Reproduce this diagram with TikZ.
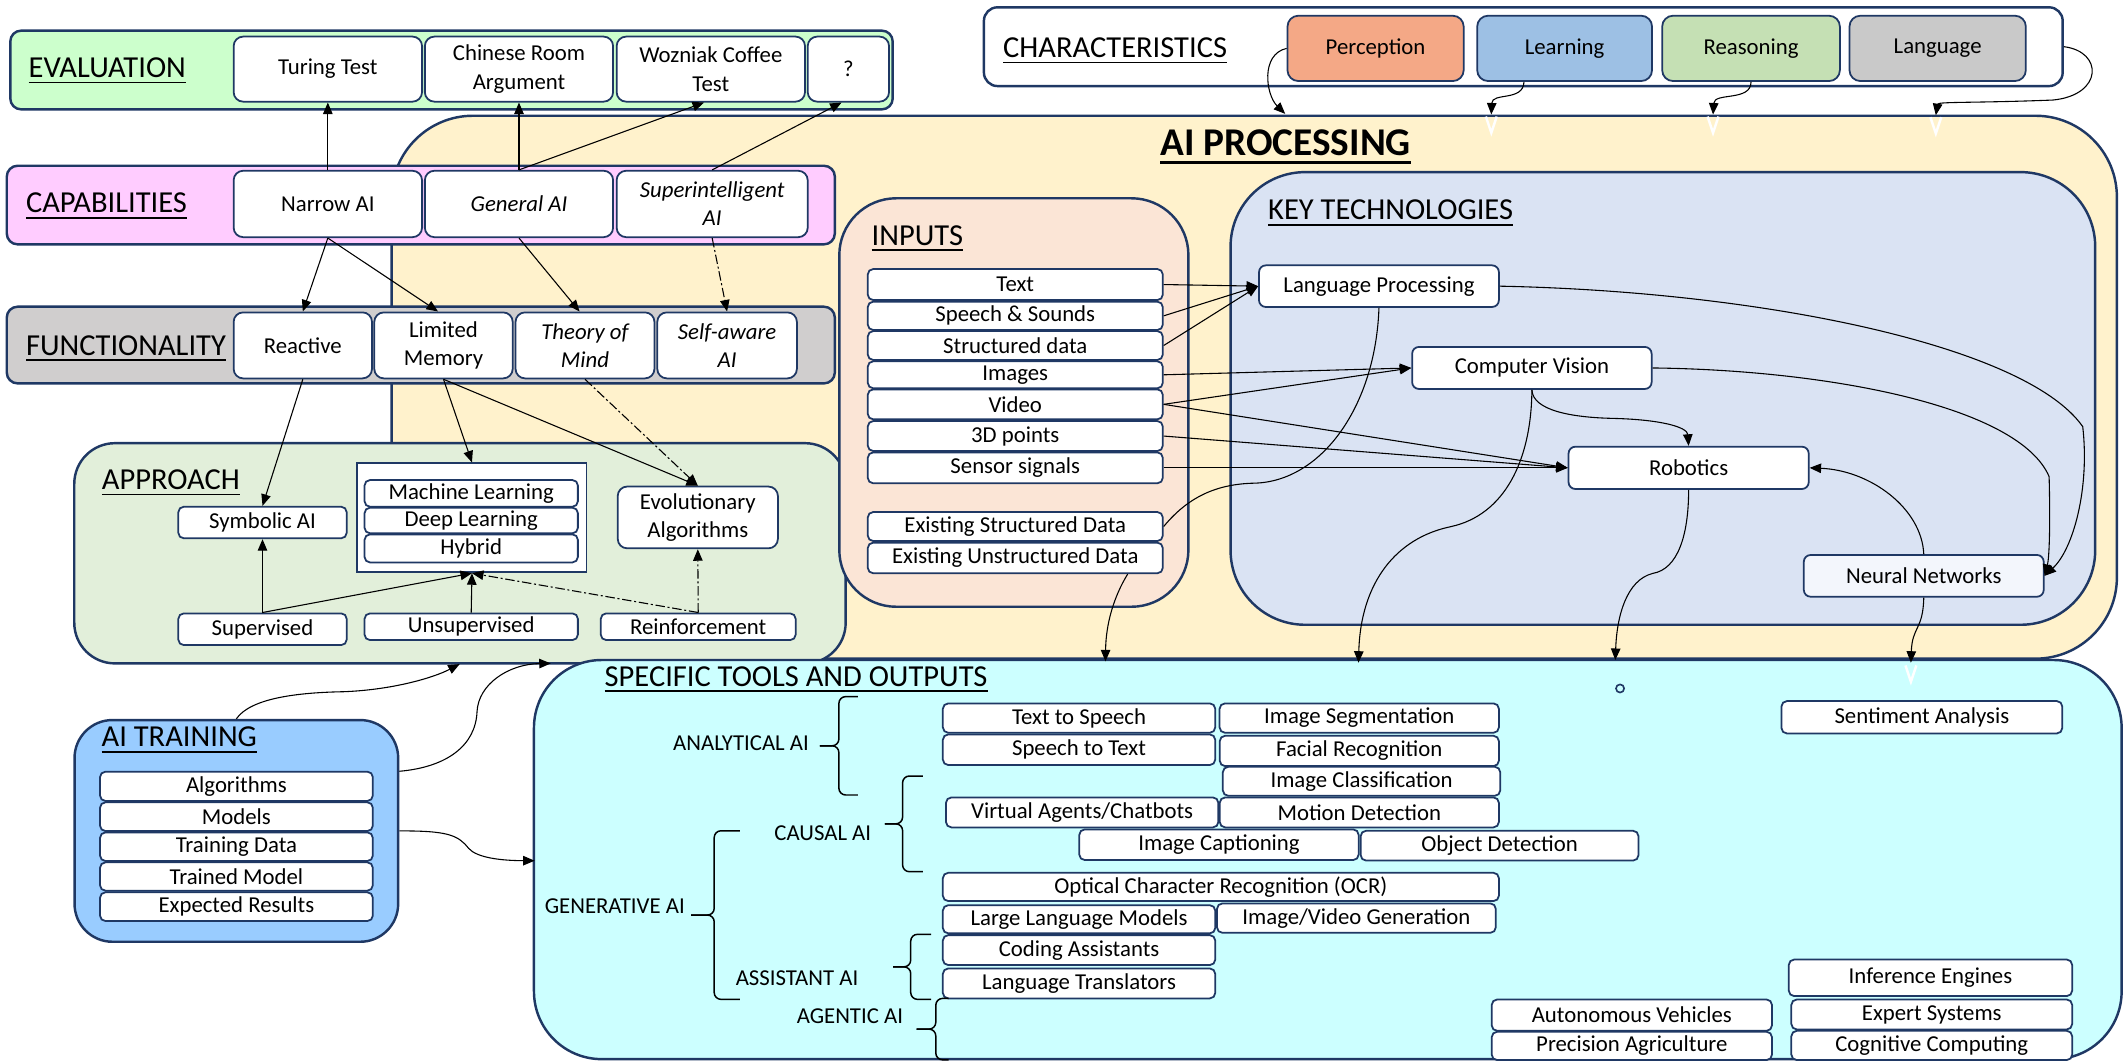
\documentclass[tikz,border=0pt]{standalone}
\usepackage{fontspec}
\setmainfont{Carlito}
\usetikzlibrary{arrows.meta,calc}

\definecolor{navy}{HTML}{1F3864}
\definecolor{evalfill}{HTML}{CCFFCC}
\definecolor{capfill}{HTML}{FFCCFF}
\definecolor{funcfill}{HTML}{D0CECE}
\definecolor{procfill}{HTML}{FFF2CC}
\definecolor{appfill}{HTML}{E2EFDA}
\definecolor{inpfill}{HTML}{FBE5D6}
\definecolor{techfill}{HTML}{DAE3F3}
\definecolor{toolfill}{HTML}{CCFFFF}
\definecolor{trainfill}{HTML}{99CCFF}
\definecolor{percfill}{HTML}{F4A886}
\definecolor{learnfill}{HTML}{9DC0E4}
\definecolor{reasfill}{HTML}{C5E0B4}
\definecolor{langfill}{HTML}{C9C9C9}
\definecolor{nnfill}{HTML}{F3F6FC}

% underlined heading text
\newsavebox\hdbox
\newcommand\hdul[1]{\sbox\hdbox{#1}\usebox\hdbox\llap{\rule[-4.5pt]{\wd\hdbox}{1.3pt}}}
% box given by its corners: style, name, x1, y1, x2, y2, text
\newcommand\boxnode[7]{\node[#1,minimum width={(#5)-(#3)},minimum height={(#6)-(#4)}] (#2) at ({((#3)+(#5))/2},{((#4)+(#6))/2}) {#7};}
% left curly bracket: end x, spine x, tip x, top y, bottom y
\newcommand\catbrace[5]{%
  \draw[brline] (#1,#4) -- (#2,#4) -- (#2,{((#4)+(#5))/2}) -- (#3,{((#4)+(#5))/2});
  \draw[brline] (#1,#5) -- (#2,#5) -- (#2,{((#4)+(#5))/2}) -- (#3,{((#4)+(#5))/2});}

\begin{document}
\begin{tikzpicture}[x=1pt,y=-1pt,
  panel/.style={draw=navy,line width=1.8pt,inner sep=0pt},
  tbox/.style={draw=navy,line width=1.3pt,fill=white,rounded corners=4pt,inner sep=0pt,align=center,font=\fontsize{16.8}{20.8}\selectfont},
  itbox/.style={tbox,font=\fontsize{16.8}{20.8}\selectfont\itshape},
  chbox/.style={tbox,rounded corners=8pt},
  heading/.style={anchor=base west,inner sep=0pt,font=\fontsize{22.5}{26}\selectfont},
  lbl/.style={anchor=east,inner sep=0pt,font=\fontsize{16.8}{20}\selectfont},
  link/.style={line width=0.8pt,-{Triangle[length=8.5pt,width=7pt]}},
  dlink/.style={link,dash pattern=on 7pt off 2pt on 1.5pt off 2pt},
  plain/.style={line width=0.8pt},
  brline/.style={line width=1.1pt,rounded corners=5pt}]

\useasboundingbox (0,0) rectangle (1568,782.9);

% ---------- panels ----------
\boxnode{panel,fill=procfill,rounded corners=60pt}{proc}{289}{85.4}{1562}{486}{}
\boxnode{panel,fill=evalfill,rounded corners=8pt}{eval}{7.6}{22.6}{658.7}{80.7}{}
\boxnode{panel,fill=capfill,rounded corners=8pt}{cap}{5}{122.3}{616}{180.3}{}
\boxnode{panel,fill=funcfill,rounded corners=8pt}{func}{5}{226.3}{616}{282.9}{}
\boxnode{panel,fill=appfill,rounded corners=30pt}{approach}{54.8}{327}{624}{489.5}{}
\boxnode{panel,fill=inpfill,rounded corners=42pt}{inputs}{619.3}{146.3}{876.9}{447.7}{}
\boxnode{panel,fill=techfill,rounded corners=55pt}{tech}{908}{127}{1546}{461}{}
\boxnode{panel,fill=toolfill,rounded corners=50pt}{tools}{394}{487}{1565.5}{781.5}{}
\boxnode{panel,fill=trainfill,rounded corners=28pt}{training}{55}{531.3}{293.8}{694.9}{}
\boxnode{panel,fill=white,rounded corners=10pt}{chars}{726}{5.4}{1522}{63.5}{}

% ---------- headings ----------
\node[heading] (hEval) at (21,57) {\hdul{EVALUATION}};
\node[heading] (hCap) at (19,157) {\hdul{CAPABILITIES}};
\node[heading] (hFunc) at (19,262) {\hdul{FUNCTIONALITY}};
\node[heading] (hApp) at (75,361) {\hdul{APPROACH}};
\node[heading] (hTrain) at (74.8,551) {\hdul{AI TRAINING}};
\node[heading] (hInp) at (643,180.8) {\hdul{INPUTS}};
\node[heading] (hTech) at (935.6,162.3) {\hdul{KEY TECHNOLOGIES}};
\node[heading] (hTools) at (446,506.2) {\hdul{SPECIFIC TOOLS AND OUTPUTS}};
\node[heading] (hChars) at (740,42.3) {\hdul{CHARACTERISTICS}};
\node[heading,font=\fontsize{29}{33}\selectfont\bfseries] (hProc) at (856,114.4)
  {\sbox\hdbox{AI PROCESSING}\usebox\hdbox\llap{\rule[-6.5pt]{\wd\hdbox}{2.2pt}}};

% ---------- evaluation ----------
\boxnode{tbox,rounded corners=7pt}{turing}{172.4}{27}{311.4}{75}{Turing Test}
\boxnode{tbox,rounded corners=7pt}{chinese}{313.5}{27}{452.4}{75}{Chinese Room\\Argument}
\boxnode{tbox,rounded corners=7pt}{wozniak}{455}{27}{594}{75}{Wozniak Coffee\\Test}
\boxnode{tbox,rounded corners=7pt}{qmark}{596}{27}{656}{75}{?}

% ---------- capabilities ----------
\boxnode{tbox,rounded corners=7pt}{narrow}{172.4}{126}{311.4}{175}{Narrow AI}
\boxnode{itbox,rounded corners=7pt}{general}{313.5}{126}{452.4}{175}{General AI}
\boxnode{itbox,rounded corners=7pt}{superint}{455}{126}{596}{175}{Superintelligent\\AI}

% ---------- functionality ----------
\boxnode{tbox,rounded corners=7pt}{reactive}{172.4}{230.5}{274.5}{279.2}{Reactive}
\boxnode{tbox,rounded corners=7pt}{limited}{276.2}{230.5}{378.3}{279.2}{Limited\\Memory}
\boxnode{itbox,rounded corners=7pt}{theory}{380.4}{230.5}{482.9}{279.2}{Theory of\\Mind}
\boxnode{itbox,rounded corners=7pt}{selfaware}{485}{230.5}{588}{279.2}{Self-aware\\AI}

% ---------- approach ----------
\boxnode{tbox}{symbolic}{131.6}{373.9}{255.8}{397.2}{Symbolic AI}
\boxnode{tbox,rounded corners=0pt}{mlgroup}{263.7}{341.9}{432.8}{422.3}{}
\boxnode{tbox}{ml}{269}{354.2}{426.4}{373.9}{Machine Learning}
\boxnode{tbox}{dl}{269}{374.6}{426.4}{393.5}{Deep Learning}
\boxnode{tbox}{hybrid}{269}{394.3}{426.4}{415}{Hybrid}
\boxnode{tbox,rounded corners=7pt}{evo}{455.8}{359}{574}{404.6}{Evolutionary\\Algorithms}
\boxnode{tbox}{supervised}{131.6}{452.6}{255.8}{476}{Supervised}
\boxnode{tbox}{unsupervised}{269}{452.6}{426.4}{472.3}{Unsupervised}
\boxnode{tbox}{reinforcement}{443.3}{452.6}{587.1}{472.3}{Reinforcement}

% ---------- characteristics ----------
\boxnode{chbox,fill=percfill}{perception}{950}{11.6}{1080}{59.8}{Perception}
\boxnode{chbox,fill=learnfill}{learning}{1090}{11.6}{1219}{59.8}{Learning}
\boxnode{chbox,fill=reasfill}{reasoning}{1226.5}{11.6}{1357.6}{59.8}{Reasoning}
\boxnode{chbox,fill=langfill}{language}{1364.7}{11.6}{1494.8}{59.8}{Language}

% ---------- inputs ----------
\boxnode{tbox}{text}{640.3}{198.5}{858}{221.4}{Text}
\boxnode{tbox}{speech}{640.3}{222.6}{858}{243.5}{Speech \& Sounds}
\boxnode{tbox}{structured}{640.3}{244.3}{858}{265.6}{Structured data}
\boxnode{tbox}{images}{640.3}{266.6}{858}{286.5}{Images}
\boxnode{tbox}{video}{640.3}{287.3}{858}{309.4}{Video}
\boxnode{tbox}{threed}{640.3}{310.7}{858}{332.8}{3D points}
\boxnode{tbox}{sensor}{640.3}{333.8}{858}{356.6}{Sensor signals}
\boxnode{tbox}{exstruct}{640.3}{377.8}{858}{399.2}{Existing Structured Data}
\boxnode{tbox}{exunstruct}{640.3}{400.4}{858}{423}{Existing Unstructured Data}

% ---------- key technologies ----------
\boxnode{tbox,rounded corners=5pt}{langproc}{929}{195.8}{1106}{226.5}{Language Processing}
\boxnode{tbox,rounded corners=5pt}{compvis}{1042}{256}{1218.7}{287}{Computer Vision}
\boxnode{tbox,rounded corners=5pt}{robotics}{1157.4}{329.6}{1334.6}{360.8}{Robotics}
\boxnode{tbox,rounded corners=5pt,fill=nnfill}{neural}{1331}{409.5}{1508}{440.3}{Neural Networks}

% ---------- tools and outputs ----------
\boxnode{tbox}{tts}{695.7}{519}{896.7}{540.7}{Text to Speech}
\boxnode{tbox}{imgseg}{899.9}{519}{1106}{540.7}{Image Segmentation}
\boxnode{tbox}{stt}{695.7}{541.9}{896.7}{564.5}{Speech to Text}
\boxnode{tbox}{facial}{900}{542.9}{1106}{565.3}{Facial Recognition}
\boxnode{tbox}{imgclass}{902.3}{565.8}{1107}{587.2}{Image Classification}
\boxnode{tbox}{virtual}{698}{588.4}{899}{610.5}{Virtual Agents/Chatbots}
\boxnode{tbox}{motion}{900}{588.4}{1106}{610.5}{Motion Detection}
\boxnode{tbox}{captioning}{796.4}{612}{1002.5}{634.6}{Image Captioning}
\boxnode{tbox}{objdet}{1004}{613}{1209}{635}{Object Detection}
\boxnode{tbox}{ocr}{695.7}{644}{1106}{664.9}{Optical Character Recognition (OCR)}
\boxnode{tbox}{llm}{695.7}{667.9}{896.7}{688.7}{Large Language Models}
\boxnode{tbox}{imgvid}{898}{666.6}{1103.7}{688.3}{Image/Video Generation}
\boxnode{tbox}{coding}{695.7}{690}{896.7}{712.1}{Coding Assistants}
\boxnode{tbox}{translators}{695.7}{714.6}{896.7}{736.7}{Language Translators}
\boxnode{tbox}{sentiment}{1314.5}{517.3}{1521.7}{541.2}{Sentiment Analysis}
\boxnode{tbox}{inference}{1319.9}{708}{1529}{735}{Inference Engines}
\boxnode{tbox}{expert}{1321.8}{737.5}{1529}{759.6}{Expert Systems}
\boxnode{tbox}{cognitive}{1321.8}{760.6}{1529}{782.2}{Cognitive Computing}
\boxnode{tbox}{autonomous}{1100.7}{737.5}{1307.5}{760.6}{Autonomous Vehicles}
\boxnode{tbox}{precision}{1100.7}{761.3}{1307.5}{782.2}{Precision Agriculture}

% ---------- AI training ----------
\boxnode{tbox}{algorithms}{73.8}{569.4}{275.1}{591}{Algorithms}
\boxnode{tbox}{models}{73.8}{592}{275.1}{613.2}{Models}
\boxnode{tbox}{trainingdata}{73.8}{614.2}{275.1}{635.3}{Training Data}
\boxnode{tbox}{trainedmodel}{73.8}{636.3}{275.1}{657.2}{Trained Model}
\boxnode{tbox}{expected}{73.8}{658.4}{275.1}{679.6}{Expected Results}

% ---------- AI categories with brackets ----------
\node[lbl] (lAnalytical) at (597,548.5) {ANALYTICAL AI};
\node[lbl] (lCausal) at (643,615) {CAUSAL AI};
\node[lbl] (lGenerative) at (505.5,669) {GENERATIVE AI};
\node[lbl] (lAssistant) at (633.5,722) {ASSISTANT AI};
\node[lbl] (lAgentic) at (666.5,749.7) {AGENTIC AI};
\catbrace{633}{619}{605}{514}{586.6}
\catbrace{681}{666}{653}{572.6}{643.2}
\catbrace{546}{527}{510}{613}{737.4}
\catbrace{687}{672}{659}{689.4}{737.4}
\catbrace{700}{690.5}{676.4}{736.7}{782}

% ---------- connectors: capabilities ----------
\draw[link] (narrow.north) -- (turing.south);
\draw[link] (general.north) -- (chinese.south);
\draw[link] (general.north) -- ($(wozniak.south)+(-5,0)$);
\draw[link] (superint.north) -- ($(qmark.south)+(-5,0)$);
\draw[link] (narrow.south) -- (reactive.north);
\draw[link] (narrow.south) -- ($(limited.north)+(-4,0)$);
\draw[link] (general.south) -- ($(theory.north)+(-4,0)$);
\draw[dlink] (superint.south) -- (selfaware.north);

% ---------- connectors: functionality and approach ----------
\draw[link] (reactive.south) -- (symbolic.north);
\draw[link] (limited.south) -- (mlgroup.north);
\draw[link] (limited.south) -- (evo.north);
\draw[dlink] (theory.south) -- (evo.north);
\draw[link] (supervised.north) -- (symbolic.south);
\draw[link] (supervised.north) -- (mlgroup.south);
\draw[link] (unsupervised.north) -- (mlgroup.south);
\draw[dlink] (reinforcement.north) -- (mlgroup.south);
\draw[dlink] (reinforcement.north) -- (evo.south);

% ---------- connectors: characteristics ----------
\coordinate (cP) at (948.3,84);
\coordinate (cL) at (1100.4,84.5);
\coordinate (cR) at (1264,84.5);
\coordinate (cG) at (1428.4,85);
\draw[link] (perception.west) .. controls (930,40) and (934,70) .. (cP);
\draw[link] ($(learning.south)+(-30,0)$) .. controls (1124,75) and (1101,68) .. (cL);
\draw[link] (reasoning.south) .. controls (1292,75) and (1265,68) .. (cR);
\draw[link] (chars.east) .. controls (1552,38) and (1552,70) .. (1515,73.8)
  .. controls (1460,76) and (1430,75) .. (cG);

% ---------- connectors: inputs ----------
\foreach \s in {text,speech,structured} \draw[link] (\s.east) -- (langproc.west);
\draw[link] (images.east) -- (compvis.west);
\draw[link] (video.east) -- (compvis.west);
\foreach \s in {video,threed,sensor} \draw[link] (\s.east) -- (robotics.west);
\draw[plain] (exstruct.east) .. controls (878,365) and (900,357) .. (926,356.5)
  .. controls (975,355) and (1015,300) .. (langproc.south);
\coordinate (tEU) at (815.7,488);
\draw[link] ($(exunstruct.south east)+(-26.6,0)$) .. controls (822,440) and (816,460) .. (tEU);

% ---------- connectors: key technologies ----------
\draw[link] (compvis.south) .. controls (1131,303) and (1160,308) .. (1189.7,308.7)
  .. controls (1225,309.5) and (1245,315) .. (robotics.north);
\coordinate (tCV) at (1002.4,489);
\draw[link] (compvis.south) .. controls (1130,340) and (1110,380) .. (1070.5,388.6)
  .. controls (1030,397) and (1004,430) .. (tCV);
\coordinate (tRB) at (1191.9,487);
\draw[link] (robotics.south) .. controls (1246,395) and (1238,420) .. (1219.5,423.1)
  .. controls (1200,428) and (1193,455) .. (tRB);
\draw[link] (neural.north) .. controls (1418,375) and (1380,347) .. (robotics.east);
\draw[link] (langproc.east) .. controls (1300,215) and (1495,255) .. (1536.8,314.8)
  .. controls (1542,360) and (1530,405) .. (neural.east);
\draw[link] (compvis.east) .. controls (1350,273) and (1490,300) .. (1512,351.7)
  .. controls (1513,390) and (1512,412) .. (neural.east);
\coordinate (tNN) at (1410,489);
\draw[link] (neural.south) .. controls (1419,465) and (1411,462) .. (tNN);

% ---------- connectors: AI training ----------
\coordinate (tA1) at (339.2,490);
\coordinate (tA2) at (406.4,489.5);
\coordinate (tA3) at (394.5,635.1);
\draw[link] (training.north) .. controls (185,515) and (220,511) .. (253.5,510.4)
  .. controls (290,509) and (320,500) .. (tA1);
\draw[link] ($(training.east)+(0,-44)$) .. controls (330,566) and (351,550) .. (352,525)
  .. controls (353,505) and (375,490) .. (tA2);
\draw[link] (training.east) .. controls (330,613) and (338,616) .. (345.8,626)
  .. controls (352,633) and (370,635) .. (tA3);

% ---------- small marks below some arrow tips ----------
\foreach \x/\y in {1100.4/86,1264/86,1428.4/86.5,1410/491}
  \draw[white,line width=1.8pt] ({\x-4},{\y}) -- ({\x},{\y+12}) -- ({\x+4},{\y});
\draw[navy,line width=1.2pt] (1195.4,508) circle[radius=3pt];

\end{tikzpicture}
\end{document}
